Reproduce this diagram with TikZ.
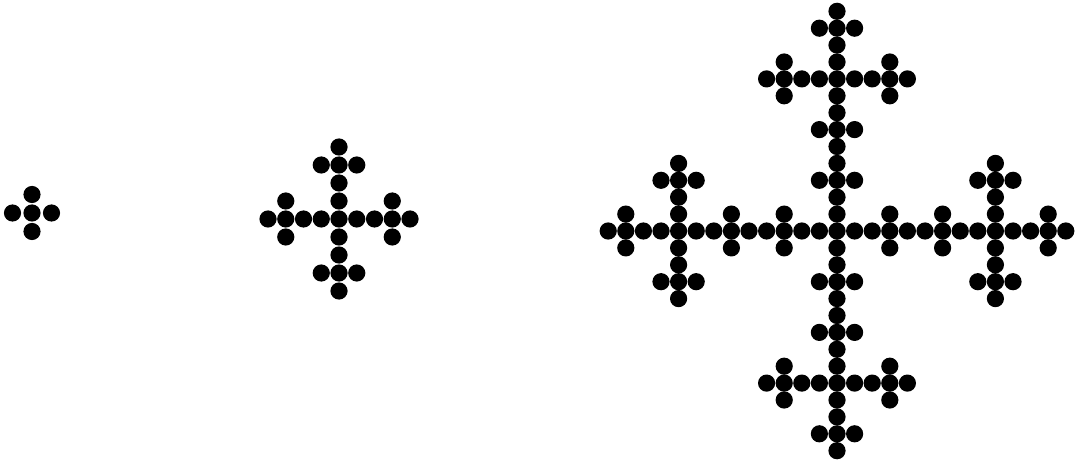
\documentclass[tikz,border=0pt]{standalone}
\tikzset{blot/.style={fill=black}}
\newcommand{\blotr}{0.172cm}

\begin{document}
\begin{tikzpicture}

% Background
\fill[white] (0,0) rectangle (21.62,-9.30);
\useasboundingbox (0,0) rectangle (21.62,-9.30);

% === Stage 1: one cross of five dots ===
\begin{scope}[shift={(0.64cm,-4.26cm)}, x=0.39cm, y=0.37cm]
  \foreach \a/\b in {0/0,1/0,-1/0,0/1,0/-1}
    \fill[blot] (\a,\b) circle (\blotr);
\end{scope}

% === Stage 2: five crosses, centres 3 steps apart ===
\begin{scope}[shift={(6.78cm,-4.38cm)}, x=0.355cm, y=0.36cm]
  \foreach \r/\s in {0/0,3/0,-3/0,0/3,0/-3}
    \foreach \a/\b in {0/0,1/0,-1/0,0/1,0/-1}
      \fill[blot] (\r+\a,\s+\b) circle (\blotr);
\end{scope}

% === Stage 3: five copies of stage 2, centres 9 steps apart ===
\begin{scope}[shift={(16.74cm,-4.62cm)}, x=0.352cm, y=0.338cm]
  \foreach \p/\q in {0/0,9/0,-9/0,0/9,0/-9}
    \foreach \r/\s in {0/0,3/0,-3/0,0/3,0/-3}
      \foreach \a/\b in {0/0,1/0,-1/0,0/1,0/-1}
        \fill[blot] (\p+\r+\a,\q+\s+\b) circle (\blotr);
\end{scope}

\end{tikzpicture}
\end{document}
